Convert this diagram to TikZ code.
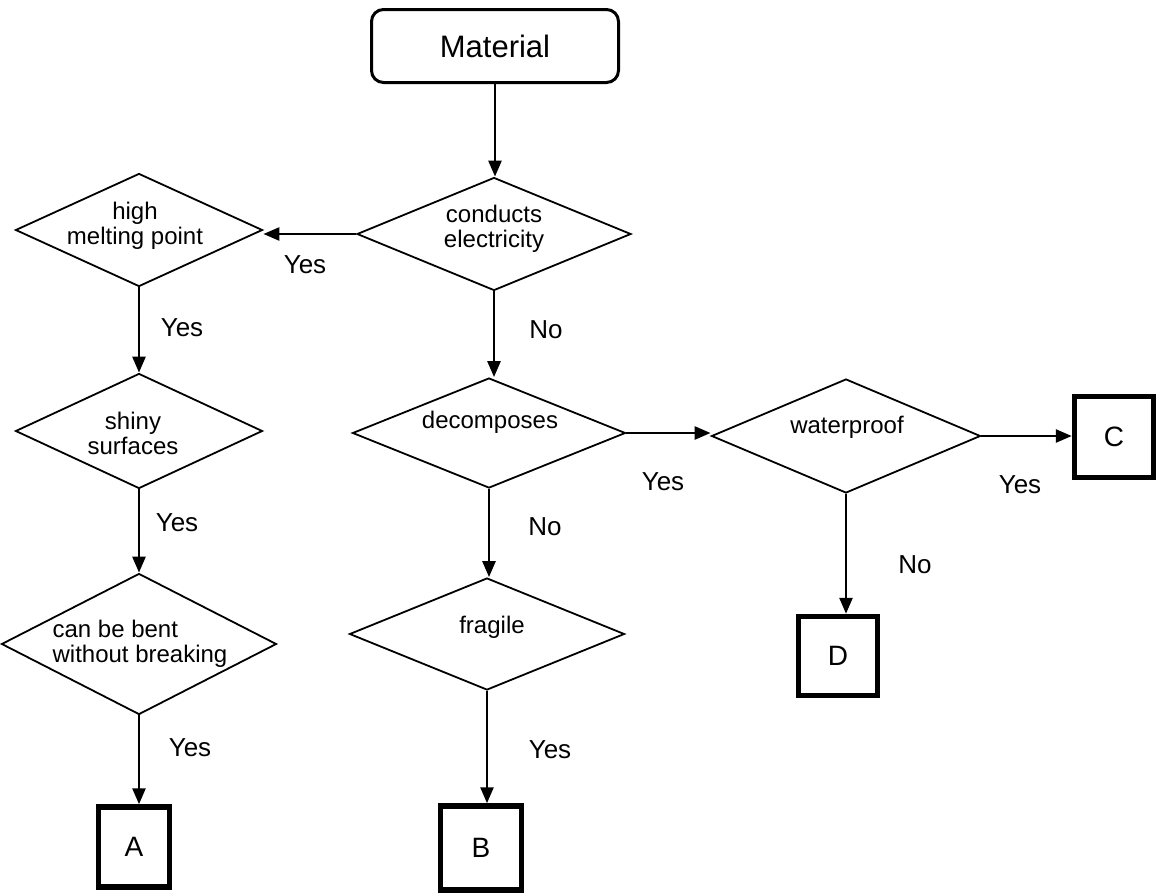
\documentclass[tikz,border=0pt]{standalone}
\usepackage{fontspec}
\setmainfont{Liberation Sans}
\usetikzlibrary{shapes.geometric,arrows.meta}
\begin{document}
\begin{tikzpicture}[x=1pt,y=-1pt,
  dia/.style={draw, diamond, line width=1.8pt, inner sep=0pt},
  dtext/.style={font=\fontsize{24}{25}\selectfont, align=center, inner sep=0pt},
  resbox/.style={draw, line width=5.5pt, inner sep=0pt, font=\fontsize{28}{30}\selectfont},
  topbox/.style={draw, line width=3pt, rounded corners=12pt, inner sep=0pt, minimum width=247pt, minimum height=73pt, font=\fontsize{31}{33}\selectfont},
  flow/.style={line width=2.6pt, -{Triangle[length=16pt,width=13pt]}},
  lbl/.style={font=\fontsize{26}{28}\selectfont, inner sep=0pt},
]
\useasboundingbox[fill=white] (0,0) rectangle (1162,895);

% start
\node[topbox] (mat) at (495,46) {Material};

% decisions
\node[dia, minimum width=274pt, minimum height=113pt] (cond) at (494,234) {};
\node[dtext] (condt) at (494,229) {conducts\\electricity};

\node[dia, minimum width=247pt, minimum height=113pt] (high) at (139,230) {};
\node[dtext] (hight) at (135,226) {high\\melting point};

\node[dia, minimum width=247pt, minimum height=115pt] (shiny) at (139,431) {};
\node[dtext] (shinyt) at (133,433) {shiny\\surfaces};

\node[dia, minimum width=275pt, minimum height=141pt] (bent) at (139,644) {};
\node[dtext, align=left] (bentt) at (140,644) {can be bent\\without breaking};

\node[dia, minimum width=273pt, minimum height=110pt] (dec) at (489,433) {};
\node[dtext] (dect) at (490,422) {decomposes};

\node[dia, minimum width=275pt, minimum height=112pt] (frag) at (487,634) {};
\node[dtext] (fragt) at (492,627) {fragile};

\node[dia, minimum width=269pt, minimum height=114pt] (water) at (846,436) {};
\node[dtext] (watert) at (847,427) {waterproof};

% results
\node[resbox, minimum width=71pt, minimum height=80pt] (A) at (134,847) {A};
\node[resbox, minimum width=81pt, minimum height=84pt] (B) at (481,848) {B};
\node[resbox, minimum width=79pt, minimum height=81pt] (C) at (1114,437) {C};
\node[resbox, minimum width=79pt, minimum height=79pt] (D) at (838,656) {D};

% connectors
\draw[flow] (mat.south) -- (mat.south |- cond.north);
\draw[flow] (cond.west) -- (cond.west -| high.east);
\draw[flow] (cond.south) -- (cond.south |- dec.north);
\draw[flow] (high.south) -- (high.south |- shiny.north);
\draw[flow] (shiny.south) -- (shiny.south |- bent.north);
\draw[flow] (bent.south) -- (bent.south |- A.north);
\draw[flow] (dec.east) -- (dec.east -| water.west);
\draw[flow] (dec.south) -- (dec.south |- frag.north);
\draw[flow] (frag.south) -- (frag.south |- B.north);
\draw[flow] (water.east) -- (water.east -| C.west);
\draw[flow] (water.south) -- (water.south |- D.north);

% labels
\node[lbl] (l1) at (305,265) {Yes};
\node[lbl] (l2) at (182,328) {Yes};
\node[lbl] (l3) at (546,330) {No};
\node[lbl] (l4) at (177,523) {Yes};
\node[lbl] (l5) at (545,527) {No};
\node[lbl] (l6) at (663,482) {Yes};
\node[lbl] (l7) at (1020,485) {Yes};
\node[lbl] (l8) at (915,565) {No};
\node[lbl] (l9) at (190,748) {Yes};
\node[lbl] (l10) at (550,750) {Yes};
\end{tikzpicture}
\end{document}
